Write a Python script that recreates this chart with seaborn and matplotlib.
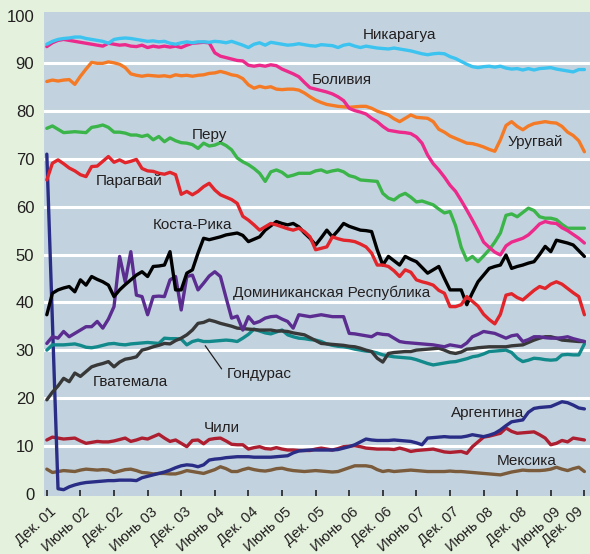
import pandas as pd
import matplotlib
matplotlib.use('Agg')
import matplotlib.pyplot as plt
import matplotlib.transforms as mtransforms
import seaborn as sns

# month index: 0 = Dec 2001 ... 96 = Dec 2009
months = list(range(97))
tick_pos = list(range(0, 97, 6))
tick_labels = ['Дек. 01', 'Июнь 02', 'Дек. 02', 'Июнь 03', 'Дек. 03', 'Июнь 04',
               'Дек. 04', 'Июнь 05', 'Дек. 05', 'Июнь 06', 'Дек. 06', 'Июнь 07',
               'Дек. 07', 'Июнь 08', 'Дек. 08', 'Июнь 09', 'Дек. 09']

nicaragua = [94.0, 94.6, 95.0, 95.2, 95.3, 95.5,
             95.5, 95.2, 95.0, 94.8, 94.6, 94.2,
             95.0, 95.2, 95.3, 95.2, 95.0, 94.8,
             94.6, 94.7, 94.5, 94.6, 94.2, 94.0,
             94.3, 94.5, 94.3, 94.5, 94.5, 94.4,
             94.6, 94.5, 94.3, 94.6, 94.2, 93.8,
             93.3, 94.0, 94.3, 93.8, 94.4, 94.2,
             94.0, 93.8, 93.9, 94.1, 93.9, 93.7,
             93.6, 93.9, 93.8, 93.7, 93.3, 93.8,
             94.0, 93.6, 93.3, 93.6, 93.4, 93.2,
             93.1, 93.0, 93.2, 93.0, 92.8, 92.6,
             92.3, 92.0, 91.8, 92.0, 92.1, 92.0,
             91.4, 91.0, 90.4, 89.8, 89.3, 89.1,
             89.3, 89.4, 89.2, 89.4, 89.0, 88.8,
             88.9, 88.6, 88.9, 88.6, 88.9, 89.0,
             89.1, 88.8, 88.6, 88.4, 88.2, 88.7,
             88.7]

bolivia = [93.5, 94.3, 94.8, 95.0, 94.8, 94.6,
           94.4, 94.2, 94.0, 93.8, 93.6, 94.2,
           94.0, 93.8, 93.9, 93.6, 93.5, 93.8,
           93.3, 93.6, 93.4, 93.6, 93.4, 93.6,
           93.3, 93.8, 94.2, 94.3, 94.4, 94.3,
           92.2, 91.5, 91.2, 90.9, 90.6, 90.5,
           89.6, 89.4, 89.6, 89.4, 89.7, 89.5,
           88.8, 88.3, 87.8, 87.2, 86.0, 84.9,
           84.6, 84.3, 84.0, 83.6, 83.0, 82.2,
           80.6, 80.1, 79.8, 79.4, 78.5, 77.8,
           76.8, 76.0, 75.8, 75.6, 75.5, 75.3,
           74.6, 73.3, 70.8, 69.0, 67.7, 66.2,
           64.5, 63.2, 61.3, 59.3, 57.2, 55.0,
           52.6, 51.5, 50.5, 49.9, 51.8, 52.6,
           53.0, 53.4, 54.1, 55.2, 56.4, 56.9,
           56.6, 56.5, 55.6, 55.0, 54.2, 53.4,
           52.4]

uruguay = [86.2, 86.5, 86.3, 86.5, 86.6, 85.6,
           87.3, 88.8, 90.2, 90.0, 90.0, 90.3,
           90.1, 89.8, 89.1, 87.8, 87.5, 87.3,
           87.5, 87.4, 87.3, 87.4, 87.2, 87.6,
           87.4, 87.5, 87.3, 87.5, 87.6, 87.9,
           88.0, 88.3, 88.0, 87.6, 87.4, 86.8,
           85.5, 84.8, 85.2, 84.9, 85.1, 84.6,
           84.5, 84.6, 84.6, 84.4, 83.8, 83.0,
           82.3, 81.8, 81.4, 81.2, 81.0, 80.9,
           80.8, 80.9, 81.0, 81.0, 80.6, 80.0,
           79.6, 79.2, 78.4, 77.8, 78.5, 79.2,
           78.7, 78.6, 78.5, 77.8, 76.2, 75.6,
           74.8, 74.3, 73.8, 73.3, 73.2, 72.9,
           72.5, 72.0, 71.6, 74.0, 77.0, 77.8,
           76.8, 76.1, 76.9, 77.4, 77.6, 77.8,
           77.6, 77.5, 76.8, 75.6, 74.9, 73.8,
           71.5]

peru = [76.4, 76.9, 76.2, 75.5, 75.6, 75.7,
        75.6, 75.5, 76.6, 76.8, 77.1, 76.6,
        75.6, 75.6, 75.4, 75.0, 75.0, 74.7,
        75.0, 74.0, 74.7, 73.6, 74.4, 73.8,
        73.4, 73.3, 73.0, 72.2, 73.3, 72.7,
        72.9, 73.4, 72.8, 71.9, 70.2, 69.4,
        68.8, 68.0, 67.0, 65.3, 67.3, 67.7,
        67.2, 66.3, 66.6, 67.0, 67.0, 67.0,
        67.5, 67.7, 67.2, 67.5, 67.7, 67.3,
        66.5, 66.2, 65.6, 65.5, 65.4, 65.3,
        62.8, 61.8, 61.4, 62.3, 62.8, 62.0,
        61.0, 61.2, 60.8, 60.4, 59.5, 58.7,
        59.0, 56.0, 51.5, 48.8, 49.6, 48.5,
        49.7, 51.0, 52.6, 54.5, 58.2, 58.5,
        57.9, 58.8, 59.7, 59.2, 57.9, 57.6,
        57.6, 57.3, 56.3, 55.5, 55.5, 55.5,
        55.5]

paraguay = [65.6, 69.1, 69.8, 69.0, 68.1, 67.5,
            66.7, 66.3, 68.4, 68.5, 69.5, 70.5,
            69.3, 69.8, 69.2, 69.5, 69.9, 68.0,
            67.5, 67.4, 67.0, 66.8, 67.2, 66.7,
            62.6, 63.2, 62.5, 63.2, 64.2, 64.9,
            63.5, 62.5, 62.0, 61.5, 60.7, 58.0,
            57.2, 56.2, 55.1, 55.8, 56.5, 56.2,
            55.8, 55.4, 55.1, 55.5, 54.8, 53.7,
            51.0, 51.3, 51.6, 53.7, 53.3, 53.0,
            52.9, 52.7, 52.2, 51.6, 50.3, 47.8,
            47.8, 47.5, 46.6, 45.4, 46.8, 46.3,
            44.7, 44.3, 44.0, 43.6, 42.5, 41.9,
            39.1, 39.1, 39.5, 41.2, 40.2, 39.2,
            37.5, 36.4, 35.5, 37.5, 41.5, 41.8,
            41.0, 40.5, 41.5, 42.5, 43.3, 42.9,
            43.8, 44.3, 43.8, 42.9, 42.0, 41.2,
            37.4]

costa_rica = [37.4, 41.9, 42.6, 43.0, 43.3, 42.2,
              44.7, 43.6, 45.4, 44.8, 44.3, 43.6,
              41.2, 42.6, 43.7, 44.7, 45.7, 46.4,
              45.4, 47.5, 47.6, 47.8, 50.6, 42.6,
              42.6, 46.1, 46.8, 50.3, 53.4, 53.1,
              53.4, 53.7, 54.1, 54.3, 54.5, 54.0,
              52.7, 53.2, 53.7, 55.1, 56.0, 56.9,
              56.5, 56.2, 56.5, 55.8, 54.5, 53.4,
              52.0, 53.5, 55.1, 53.7, 55.0, 56.5,
              55.9, 55.5, 55.1, 55.0, 54.8, 51.0,
              47.8, 49.6, 48.7, 47.8, 49.6, 49.0,
              48.5, 47.3, 46.1, 46.8, 47.5, 45.0,
              42.6, 42.6, 42.6, 39.5, 42.0, 44.3,
              45.7, 47.1, 47.5, 47.8, 49.9, 47.1,
              47.5, 47.8, 48.2, 48.5, 50.0, 51.7,
              50.6, 53.0, 52.7, 52.4, 52.0, 50.8,
              49.6]

dominican = [31.4, 32.8, 32.5, 33.9, 32.8, 33.5,
             34.2, 34.9, 34.9, 36.0, 34.6, 36.5,
             39.1, 49.6, 44.3, 50.6, 41.5, 41.2,
             37.4, 41.2, 41.3, 41.2, 44.7, 45.4,
             38.4, 45.4, 45.7, 42.6, 44.0, 45.5,
             46.4, 45.4, 41.0, 36.7, 37.1, 34.2,
             37.0, 35.6, 36.0, 36.7, 37.0, 37.1,
             36.5, 36.0, 34.6, 37.4, 37.2, 37.0,
             37.2, 37.4, 37.2, 37.0, 37.0, 37.0,
             33.5, 33.4, 33.2, 33.0, 32.8, 33.5,
             33.3, 33.2, 32.5, 31.8, 31.6, 31.5,
             31.4, 31.3, 31.2, 31.1, 30.9, 30.7,
             31.1, 30.9, 30.7, 31.5, 32.8, 33.3,
             33.9, 33.7, 33.5, 33.0, 32.5, 33.0,
             33.2, 31.8, 32.2, 32.8, 32.8, 32.6,
             32.5, 32.5, 32.6, 32.8, 32.4, 32.1,
             31.8]

guatemala = [19.6, 21.2, 22.5, 24.1, 23.4, 25.2,
             24.5, 25.5, 26.5, 26.9, 27.2, 27.6,
             26.5, 27.5, 28.1, 28.3, 28.6, 30.0,
             30.3, 30.7, 31.0, 31.4, 31.3, 32.0,
             32.5, 33.2, 34.2, 35.6, 35.8, 36.3,
             36.0, 35.6, 35.3, 35.0, 34.6, 34.5,
             34.4, 34.3, 34.2, 34.2, 34.2, 34.0,
             34.0, 33.9, 33.6, 33.4, 33.2, 32.6,
             32.0, 31.4, 31.3, 31.2, 31.1, 31.0,
             30.8, 30.7, 30.4, 30.0, 29.7, 28.3,
             27.5, 29.3, 29.5, 29.6, 29.7, 29.7,
             30.0, 30.1, 30.2, 30.3, 30.4, 30.0,
             29.5, 29.3, 29.6, 30.2, 30.3, 30.5,
             30.6, 30.7, 30.7, 30.7, 30.7, 30.9,
             31.0, 31.1, 31.6, 32.1, 32.5, 32.8,
             32.8, 32.5, 32.1, 32.0, 31.9, 31.8,
             31.8]

honduras = [30.0, 31.1, 31.1, 31.1, 31.2, 31.3,
            31.0, 30.6, 30.5, 30.7, 31.0, 31.3,
            31.4, 31.2, 31.1, 31.3, 31.4, 31.5,
            31.6, 31.5, 31.4, 32.5, 32.4, 32.4,
            32.3, 31.1, 31.8, 32.1, 31.8, 31.8,
            31.9, 32.0, 32.1, 32.0, 31.8, 32.5,
            33.3, 34.4, 34.0, 33.6, 33.4, 33.8,
            34.2, 33.2, 32.8, 32.5, 32.4, 32.2,
            32.1, 31.8, 31.3, 31.0, 30.8, 30.7,
            30.5, 30.2, 30.0, 29.8, 29.7, 29.4,
            29.0, 28.8, 28.6, 28.5, 28.4, 28.3,
            28.0, 27.6, 27.2, 26.9, 27.1, 27.3,
            27.5, 27.6, 27.9, 28.2, 28.6, 28.8,
            29.2, 29.7, 29.8, 29.9, 30.0, 29.5,
            28.3, 27.6, 27.9, 28.3, 28.2, 28.0,
            27.9, 28.0, 29.0, 29.1, 29.0, 29.0,
            31.3]

argentina = [71.0, 36.0, 1.0, 0.8, 1.4, 1.8,
             2.1, 2.3, 2.4, 2.5, 2.6, 2.7,
             2.7, 2.8, 2.8, 2.8, 2.7, 3.3,
             3.6, 3.9, 4.2, 4.5, 4.9, 5.4,
             5.8, 6.0, 5.9, 5.6, 6.0, 7.0,
             7.2, 7.3, 7.5, 7.6, 7.7, 7.7,
             7.7, 7.6, 7.6, 7.6, 7.6, 7.7,
             7.8, 7.9, 8.5, 8.9, 9.0, 9.1,
             9.1, 9.1, 9.1, 9.1, 9.2, 9.5,
             9.8, 10.2, 10.8, 11.4, 11.2, 11.1,
             11.1, 11.1, 11.2, 11.1, 11.0, 10.9,
             10.6, 10.2, 11.6, 11.7, 11.8, 11.9,
             11.8, 11.8, 11.8, 12.0, 12.3, 12.1,
             11.9, 12.2, 12.6, 13.3, 14.2, 15.0,
             15.2, 15.4, 17.0, 17.8, 18.0, 18.1,
             18.2, 18.7, 19.2, 19.0, 18.5, 17.9,
             17.7]

chile = [11.2, 11.8, 11.6, 11.4, 11.5, 11.6,
         11.0, 10.5, 10.7, 10.9, 10.8, 10.8,
         11.0, 11.3, 11.6, 10.9, 11.2, 11.6,
         11.4, 11.9, 12.4, 11.6, 10.9, 11.2,
         10.5, 9.8, 11.1, 11.2, 10.4, 11.3,
         11.5, 11.6, 11.0, 10.3, 10.2, 10.2,
         9.3, 9.6, 9.8, 9.4, 9.3, 9.6,
         9.3, 9.1, 9.1, 9.0, 9.0, 9.0,
         9.3, 9.5, 9.3, 9.1, 9.4, 9.8,
         9.9, 10.0, 9.8, 9.5, 9.4, 9.3,
         9.3, 9.3, 9.2, 9.5, 9.2, 8.8,
         9.0, 9.1, 9.2, 9.3, 9.0, 8.7,
         8.6, 8.7, 8.8, 8.4, 9.8, 10.8,
         11.8, 12.0, 12.3, 12.6, 13.7, 13.0,
         12.6, 12.7, 12.8, 12.9, 12.3, 11.6,
         10.2, 10.5, 11.1, 10.8, 11.6, 11.4,
         11.2]

mexico = [5.1, 4.4, 4.6, 4.8, 4.7, 4.6,
          4.9, 5.1, 5.0, 4.9, 5.0, 4.9,
          4.4, 4.7, 5.0, 5.1, 4.8, 4.4,
          4.3, 4.1, 4.2, 4.2, 4.1, 4.1,
          4.4, 4.8, 4.6, 4.4, 4.2, 4.6,
          5.0, 5.6, 5.2, 4.6, 4.6, 5.0,
          5.3, 5.0, 4.8, 4.7, 4.9, 5.2,
          5.3, 5.0, 4.8, 4.7, 4.6, 4.7,
          4.8, 4.7, 4.6, 4.5, 4.6, 5.0,
          5.4, 5.8, 5.8, 5.8, 5.6, 5.0,
          4.6, 4.8, 4.6, 4.7, 4.8, 4.9,
          4.8, 4.7, 4.6, 4.6, 4.6, 4.6,
          4.7, 4.6, 4.6, 4.5, 4.4, 4.3,
          4.2, 4.1, 4.0, 3.9, 4.2, 4.5,
          4.7, 4.9, 4.8, 4.8, 4.8, 4.9,
          5.1, 5.5, 5.1, 4.8, 5.2, 5.5,
          4.6]

series = {
    'Мексика': mexico,
    'Чили': chile,
    'Аргентина': argentina,
    'Гондурас': honduras,
    'Гватемала': guatemala,
    'Доминиканская Республика': dominican,
    'Коста-Рика': costa_rica,
    'Парагвай': paraguay,
    'Перу': peru,
    'Уругвай': uruguay,
    'Боливия': bolivia,
    'Никарагуа': nicaragua,
}

colors = {
    'Никарагуа': '#3cc3ef',
    'Боливия': '#ec2a8c',
    'Уругвай': '#f47a26',
    'Перу': '#3bb54a',
    'Парагвай': '#e2242b',
    'Коста-Рика': '#000000',
    'Доминиканская Республика': '#5b2d90',
    'Гватемала': '#383838',
    'Гондурас': '#12898a',
    'Аргентина': '#2a2d86',
    'Чили': '#ad1f30',
    'Мексика': '#7a5b3b',
}

# label anchor (left edge, vertical centre) in data coords
labels = {
    'Никарагуа': (56.4, 95.9),
    'Боливия': (47.3, 86.5),
    'Уругвай': (82.2, 73.6),
    'Перу': (25.9, 75.0),
    'Парагвай': (8.8, 65.3),
    'Коста-Рика': (18.9, 56.2),
    'Доминиканская Республика': (33.3, 41.9),
    'Гватемала': (8.2, 23.3),
    'Гондурас': (32.1, 25.1),
    'Чили': (28.0, 13.7),
    'Аргентина': (72.1, 16.8),
    'Мексика': (80.4, 6.7),
}

rows = []
for name, vals in series.items():
    assert len(vals) == len(months), name
    for m, v in zip(months, vals):
        rows.append((name, m, v))
df = pd.DataFrame(rows, columns=['country', 'month', 'value'])

sns.set_style('white', {'axes.facecolor': '#c2d3df'})
plt.rcParams['font.family'] = ['Liberation Sans', 'DejaVu Sans']

fig = plt.figure(figsize=(5.9, 5.54), dpi=100)
fig.patch.set_facecolor('#e3f1dd')
ax = fig.add_axes([0.0746, 0.104, 0.9254, 0.874])

sns.lineplot(data=df, x='month', y='value', hue='country', hue_order=list(series.keys()),
             palette=colors, linewidth=2.4, estimator=None, legend=False, ax=ax)

ax.set_xlim(-0.5, 97.0)
ax.set_ylim(-0.6, 100.7)
ax.set_yticks(range(0, 101, 10))
ax.yaxis.grid(True, color='white', linewidth=2.2)
ax.xaxis.grid(False)
ax.set_axisbelow(True)
grid = ax.yaxis.get_gridlines()
grid[0].set_visible(False)
grid[-1].set_visible(False)
for s in ax.spines.values():
    s.set_visible(False)
ax.set_xlabel('')
ax.set_ylabel('')

ax.tick_params(axis='y', length=0, pad=7, labelsize=12, labelcolor='#231f20')
ax.set_xticks(tick_pos)
ax.set_xticklabels(tick_labels, rotation=42, ha='right', va='top', rotation_mode='anchor')
ax.tick_params(axis='x', bottom=True, direction='in', length=4, width=1.2, color='#222222',
               labelsize=10.6, labelcolor='#231f20', pad=6)
xlabels = ax.get_xticklabels()
for i, lab in enumerate(xlabels):
    dx = 2 if i < len(xlabels) - 1 else -6
    offset = mtransforms.ScaledTranslation(dx / 72, 0, fig.dpi_scale_trans)
    lab.set_transform(lab.get_transform() + offset)

for name, (x, y) in labels.items():
    ax.text(x, y, name, fontsize=11, color='#231f20', ha='left', va='center')

ax.annotate('', xy=(28.0, 31.4), xytext=(31.5, 25.6),
            arrowprops=dict(arrowstyle='-', color='#231f20', lw=0.9))

fig.savefig('out.png', dpi=100, facecolor=fig.get_facecolor())
